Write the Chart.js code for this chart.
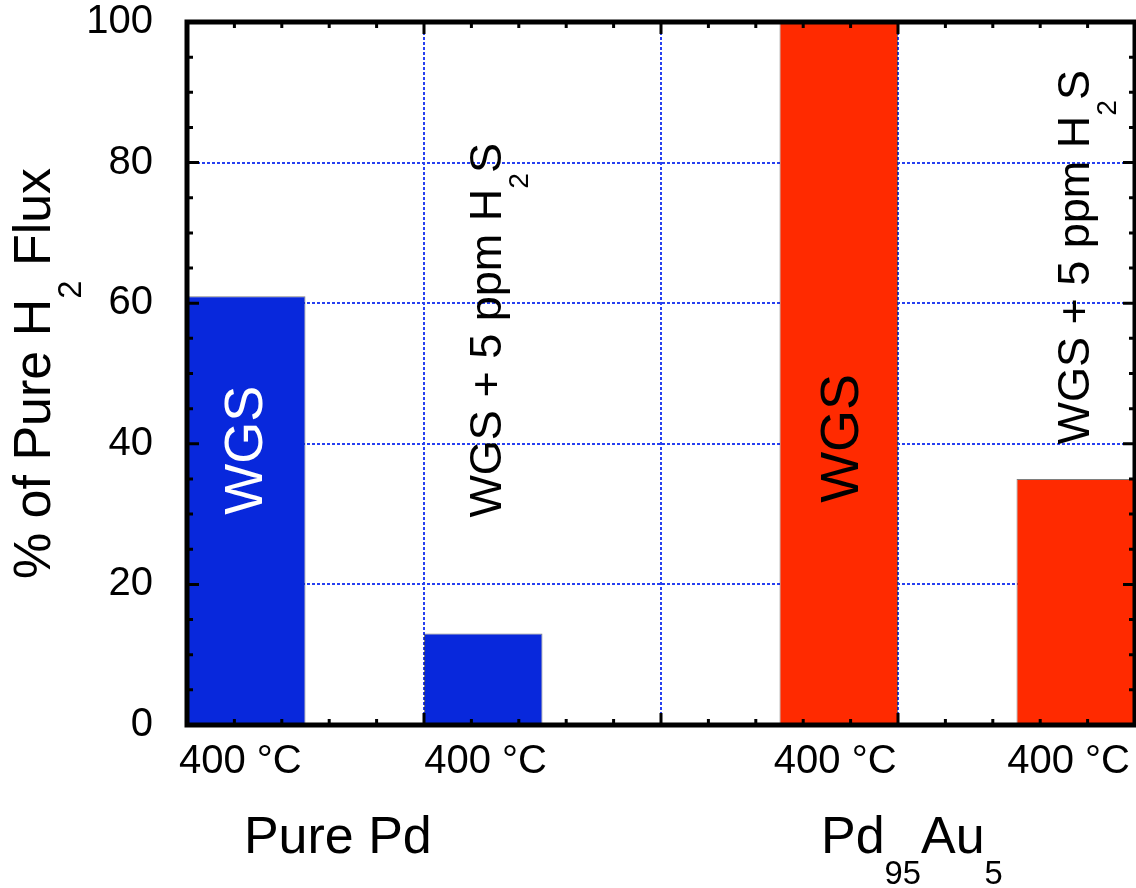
<!DOCTYPE html>
<html>
<head>
<meta charset="utf-8">
<script src="https://cdn.jsdelivr.net/npm/chart.js@4.4.1/dist/chart.umd.min.js"></script>
<style>
  html, body { margin: 0; padding: 0; background: #fff; overflow: hidden; }
  canvas { display: block; }
</style>
</head>
<body>
<canvas id="c" width="1136" height="888"></canvas>
<script>
// bar centres on the x axis (0..8) and % of pure H2 flux
const barX = [0.5, 2.5, 5.5, 7.5];
const fluxPct = [61, 13, 100, 35];
const barColors = ['#0828dc', '#0828dc', '#ff2a00', '#ff2a00'];

// temperature tick labels under the bars
const tempX = [0.45, 2.52, 5.47, 7.44];
const tempLabels = ['400 °C', '400 °C', '400 °C', '400 °C'];

// y ticks
const yMin = 0, yMax = 100, yStep = 20;

// rich text pieces: [text, subscript?]
const wgs = [['WGS', 0]];
const wgsH2S = [['WGS + 5 ppm H', 0], ['2', 1], ['S', 0]];
const groupLabels = [
  [['Pure Pd', 0]],
  [['Pd', 0], ['95', 1], ['Au', 0], ['5', 1]],
];
const groupX = [0.48, 5.35];
const yTitle = [['% of Pure H', 0], ['2', 1], [' Flux', 0]];

// rotated notes: text, anchor x (baseline) / y (start) in data units
const notes = [
  { text: wgs, x: 0.633, y: 29.9, size: 54, color: '#ffffff' },
  { text: wgsH2S, x: 2.65, y: 29.5, size: 45, color: '#000000' },
  { text: wgs, x: 5.66, y: 31.6, size: 54, color: '#000000' },
  { text: wgsH2S, x: 7.61, y: 39.9, size: 45, color: '#000000' },
];

const FONT = '"Liberation Sans", Arial, Helvetica, sans-serif';
const gridBlue = 'rgb(40, 64, 240)';
const clear = 'rgba(0,0,0,0)';

Chart.defaults.font.family = FONT;
Chart.defaults.color = '#000';

function richWidth(ctx, pieces, size) {
  let w = 0;
  for (const [t, sub] of pieces) {
    ctx.font = `${sub ? size * 0.63 : size}px ${FONT}`;
    w += ctx.measureText(t).width;
  }
  return w;
}

function drawRich(ctx, pieces, x, y, size, color, rotated) {
  ctx.save();
  ctx.translate(x, y);
  if (rotated) ctx.rotate(-Math.PI / 2);
  ctx.fillStyle = color;
  ctx.textAlign = 'left';
  ctx.textBaseline = 'alphabetic';
  let cx = 0;
  for (const [t, sub] of pieces) {
    const s = sub ? size * 0.63 : size;
    ctx.font = `${s}px ${FONT}`;
    ctx.fillText(t, cx, sub ? size * 0.6 : 0);
    cx += ctx.measureText(t).width;
  }
  ctx.restore();
}

// gnuplot style frame with inward (mirrored) ticks
const framePlugin = {
  id: 'frame',
  afterDatasetsDraw(chart) {
    const { ctx, chartArea: a, scales: { x, y } } = chart;
    ctx.save();
    ctx.strokeStyle = '#000';
    ctx.lineWidth = 3;
    ctx.beginPath();
    for (let i = 0; i <= 20; i++) {
      const px = x.getPixelForValue(i * 0.4);
      const len = i % 5 === 0 ? 12 : 6;
      ctx.moveTo(px, a.bottom); ctx.lineTo(px, a.bottom - len);
      ctx.moveTo(px, a.top); ctx.lineTo(px, a.top + len);
    }
    for (let i = 0; i <= 20; i++) {
      const py = y.getPixelForValue(i * 5);
      const len = i % 4 === 0 ? 12 : 6;
      ctx.moveTo(a.left, py); ctx.lineTo(a.left + len, py);
      ctx.moveTo(a.right, py); ctx.lineTo(a.right - len, py);
    }
    ctx.stroke();
    ctx.lineWidth = 5;
    ctx.strokeRect(a.left, a.top, a.width, a.height);
    ctx.restore();
  },
  afterDraw(chart) {
    const { ctx, chartArea: a, scales: { x, y } } = chart;
    notes.forEach(n => {
      drawRich(ctx, n.text, x.getPixelForValue(n.x), y.getPixelForValue(n.y), n.size, n.color, true);
    });
    groupLabels.forEach((g, i) => {
      drawRich(ctx, g, x.getPixelForValue(groupX[i]), a.bottom + 128, 52, '#000', false);
    });
    const w = richWidth(ctx, yTitle, 52);
    drawRich(ctx, yTitle, 50, (a.top + a.bottom) / 2 + w / 2, 52, '#000', true);
  }
};

const majorGrid = (lo, hi) => c =>
  (c.tick && c.tick.value > lo && c.tick.value < hi) ? gridBlue : clear;

new Chart(document.getElementById('c'), {
  type: 'bar',
  data: {
    datasets: [{
      data: barX.map((v, i) => ({ x: v, y: fluxPct[i] })),
      backgroundColor: barColors,
      borderColor: 'rgba(40,40,40,0.6)',
      borderWidth: 1,
      categoryPercentage: 1,
      barPercentage: 0.5,
    }],
  },
  options: {
    responsive: false,
    animation: false,
    devicePixelRatio: 1,
    layout: { padding: { top: 22, right: 1, left: 0, bottom: 0 } },
    plugins: { legend: { display: false }, tooltip: { enabled: false } },
    scales: {
      x: {
        type: 'linear',
        position: 'bottom',
        min: 0,
        max: 8,
        offset: false,
        ticks: { display: false, stepSize: 2, padding: 0 },
        grid: { offset: false, drawTicks: false, color: majorGrid(0, 8), lineWidth: 2 },
        border: { display: false, dash: [3, 2] },
        afterFit: s => { s.height = 0; },
      },
      x2: {
        type: 'linear',
        position: 'bottom',
        min: 0,
        max: 8,
        offset: false,
        afterBuildTicks: s => { s.ticks = tempX.map(v => ({ value: v })); },
        ticks: {
          autoSkip: false,
          maxRotation: 0,
          padding: 0,
          font: { size: 40, lineHeight: 1 },
          color: '#000',
          callback: (v, i) => tempLabels[i],
        },
        grid: { drawOnChartArea: false, drawTicks: true, tickLength: 17, tickColor: clear, color: clear },
        border: { display: false },
        afterFit: s => { s.height = 163; },
      },
      y: {
        type: 'linear',
        min: yMin,
        max: yMax,
        ticks: { stepSize: yStep, padding: 0, font: { size: 40, lineHeight: 1 }, color: '#000' },
        grid: { drawTicks: true, tickLength: 34, tickColor: clear, color: majorGrid(yMin, yMax), lineWidth: 2 },
        border: { display: false, dash: [3, 2] },
        afterFit: s => { s.width = 187; },
      },
    },
  },
  plugins: [framePlugin],
});
</script>
</body>
</html>
